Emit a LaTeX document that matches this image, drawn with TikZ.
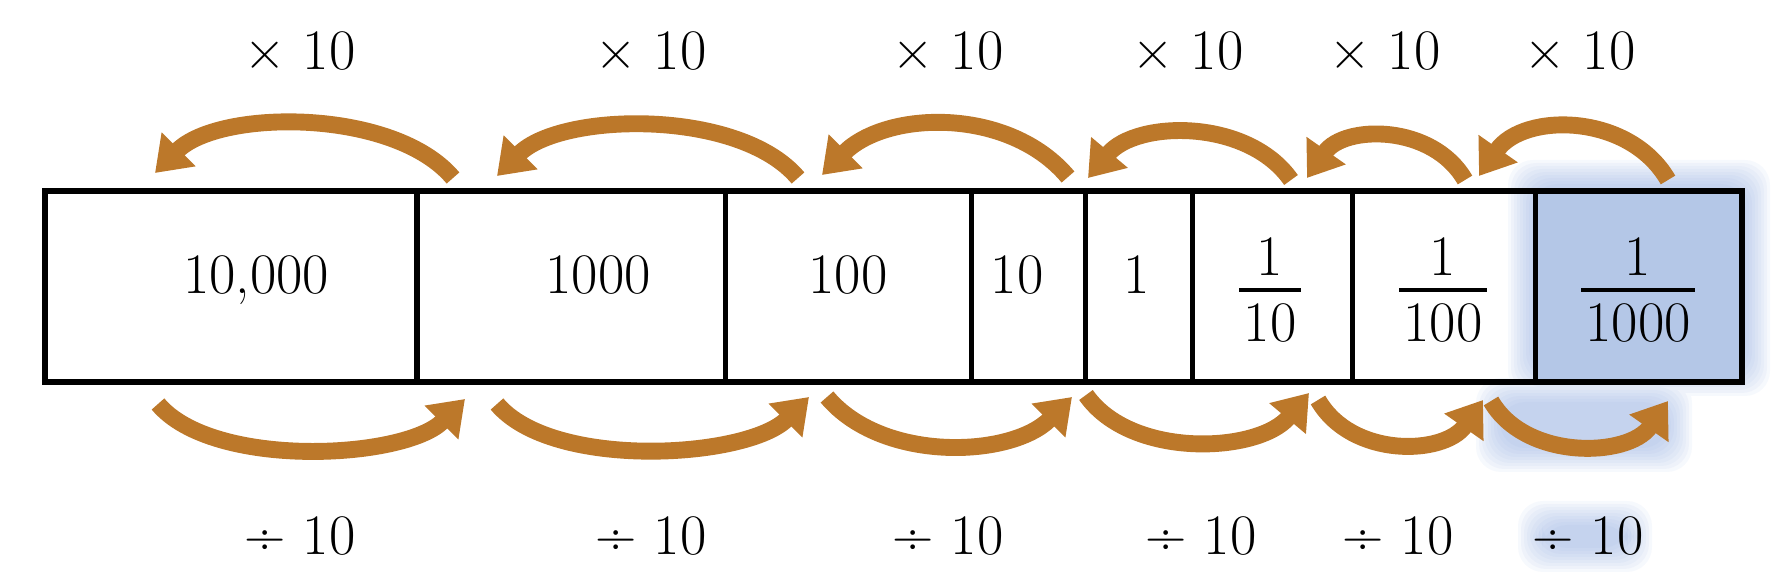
\documentclass[tikz,border=0pt]{standalone}
\usetikzlibrary{arrows.meta, positioning}
\definecolor{arrowbrown}{RGB}{188,120,42}
\definecolor{cellblue}{RGB}{180,199,231}
\definecolor{glowblue}{RGB}{140,168,222}

\begin{document}
\begin{tikzpicture}[
    x=0.01cm, y=0.01cm,
    every node/.style={font=\fontsize{16.3}{19}\selectfont},
    cell/.style={rectangle, draw, line width=1.5pt, outer sep=0pt, inner sep=0pt, minimum height=1.91cm},
    val/.style={anchor=base, inner sep=0pt},
    frac/.style={align=center, inner sep=1pt},
    lbl/.style={anchor=base, inner sep=0pt},
    fracbar/.style={line width=0.9pt},
    arr/.style={-{Triangle[length=9.5pt, width=13pt]}, line width=4.8pt, arrowbrown},
    glow/.style={fill=glowblue, fill opacity=0.075, rounded corners=2.5mm}
]
    \useasboundingbox (0,0) rectangle (1787,576);

    % soft highlight round the last column
    \foreach \d in {0,3,...,24}
        \fill[glow] (1508+\d,180+\d) rectangle (1770-\d,416-\d)
                    (1476+\d,104+\d) rectangle (1692-\d,198-\d)
                    (1518+\d,4+\d) rectangle (1652-\d,75-\d);

    % the chart
    \node[cell, minimum width=3.72cm] (c1) at (231,289.5) {};
    \node[cell, minimum width=3.08cm, right=0pt of c1] (c2) {};
    \node[cell, minimum width=2.46cm, right=0pt of c2] (c3) {};
    \node[cell, minimum width=1.14cm, right=0pt of c3] (c4) {};
    \node[cell, minimum width=1.07cm, right=0pt of c4] (c5) {};
    \node[cell, minimum width=1.60cm, right=0pt of c5] (c6) {};
    \node[cell, minimum width=1.83cm, right=0pt of c6] (c7) {};
    \node[cell, minimum width=2.06cm, right=0pt of c7, fill=cellblue] (c8) {};

    \node[val] (v1) at (256,282) {10,000};
    \node[val] (v2) at (598,282) {1000};
    \node[val] (v3) at (848,282) {100};
    \node[val] (v4) at (1017,282) {10};
    \node[val] (v5) at (1137,282) {1};
    \node[frac] (v6) at (1270,286) {1\\10};
    \node[frac] (v7) at (1443,286) {1\\100};
    \node[frac] (v8) at (1638,286) {1\\1000};
    \draw[fracbar] (v6.west) -- (v6.east);
    \draw[fracbar] (v7.west) -- (v7.east);
    \draw[fracbar] (v8.west) -- (v8.east);

    % arrow ends
    \coordinate (up1a) at (453,398);  \coordinate (up1b) at (155,403);
    \coordinate (up2a) at (798,398);  \coordinate (up2b) at (497,400);
    \coordinate (up3a) at (1068,399); \coordinate (up3b) at (822,401);
    \coordinate (up4a) at (1291,396); \coordinate (up4b) at (1088,398);
    \coordinate (up5a) at (1465,396); \coordinate (up5b) at (1307,398);
    \coordinate (up6a) at (1668,396); \coordinate (up6b) at (1479,400);
    \coordinate (dn1a) at (158,172);  \coordinate (dn1b) at (465,177);
    \coordinate (dn2a) at (497,172);  \coordinate (dn2b) at (809,179);
    \coordinate (dn3a) at (827,179);  \coordinate (dn3b) at (1072,179);
    \coordinate (dn4a) at (1086,181); \coordinate (dn4b) at (1309,183);
    \coordinate (dn5a) at (1318,176); \coordinate (dn5b) at (1483,176);
    \coordinate (dn6a) at (1491,175); \coordinate (dn6b) at (1668,175);

    % x 10 arrows
    \draw[arr] (up1a) to[out=130, in=45, looseness=0.78] (up1b);
    \draw[arr] (up2a) to[out=130, in=45, looseness=0.77] (up2b);
    \draw[arr] (up3a) to[out=130, in=45, looseness=0.95] (up3b);
    \draw[arr] (up4a) to[out=125, in=50, looseness=0.95] (up4b);
    \draw[arr] (up5a) to[out=120, in=55, looseness=1.05] (up5b);
    \draw[arr] (up6a) to[out=120, in=55, looseness=1.05] (up6b);

    % divide by 10 arrows
    \draw[arr] (dn1a) to[out=-50, in=-135, looseness=0.71] (dn1b);
    \draw[arr] (dn2a) to[out=-50, in=-135, looseness=0.71] (dn2b);
    \draw[arr] (dn3a) to[out=-50, in=-135, looseness=0.9] (dn3b);
    \draw[arr] (dn4a) to[out=-55, in=-130, looseness=0.9] (dn4b);
    \draw[arr] (dn5a) to[out=-60, in=-125, looseness=1.05] (dn5b);
    \draw[arr] (dn6a) to[out=-60, in=-125, looseness=1.0] (dn6b);

    \node[lbl] (m1) at (300,506) {× 10};
    \node[lbl] (m2) at (651,506) {× 10};
    \node[lbl] (m3) at (948,506) {× 10};
    \node[lbl] (m4) at (1188,506) {× 10};
    \node[lbl] (m5) at (1385,506) {× 10};
    \node[lbl] (m6) at (1580,506) {× 10};

    \node[lbl] (d1) at (300,21) {÷ 10};
    \node[lbl] (d2) at (651,21) {÷ 10};
    \node[lbl] (d3) at (948,21) {÷ 10};
    \node[lbl] (d4) at (1201,21) {÷ 10};
    \node[lbl] (d5) at (1398,21) {÷ 10};
    \node[lbl] (d6) at (1588,21) {÷ 10};
\end{tikzpicture}
\end{document}
